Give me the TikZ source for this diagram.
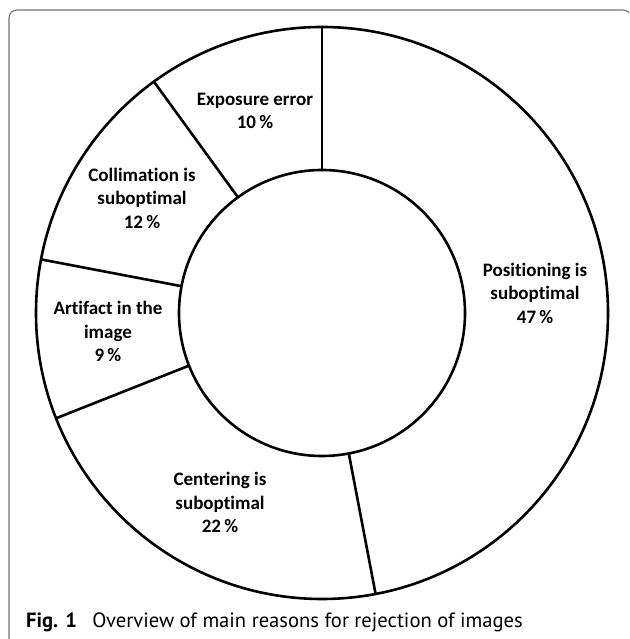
\documentclass[tikz,border=0pt]{standalone}
\usepackage{fontspec}
\setmainfont[Ligatures=NoCommon]{Carlito}
\newfontfamily\capfont{PT Sans}
\usetikzlibrary{positioning}

\begin{document}
\begin{tikzpicture}[x=1pt,y=1pt,
   ring/.style={draw=black,line width=2.6pt},
   slice/.style={align=center,font=\bfseries\fontsize{19}{23.5}\selectfont},
   frame/.style={draw=black!55,line width=1.1pt,rounded corners=8pt}]
   \useasboundingbox (0,0) rectangle (629,639);
   \clip (0,0) rectangle (629,639);
   \draw[frame] (9,-30) rectangle (631,629);
   \coordinate (C) at (322,326);
   % donut
   \draw[ring] (C) circle[radius=286] (C) circle[radius=143];
   \foreach \a in {90,126,169.2,201.6,280.8}
      \draw[ring] (C) ++(\a:143) -- ++(\a:143);
   % slice texts
   \node[slice] (expo) at (255,528) {Exposure error\\10\,\%};
   \node[slice] (coll) at (142,441) {Collimation is\\suboptimal\\12\,\%};
   \node[slice] (arti) at (108,307.5) {Artifact in the\\image\\9\,\%};
   \node[slice] (cent) at (220,136.5) {Centering is\\suboptimal\\22\,\%};
   \node[slice] (posi) at (535,346) {Positioning is\\suboptimal\\47\,\%};
   % caption
   \node[anchor=base west,inner sep=0pt,font=\capfont\fontsize{20.6}{24}\selectfont] (cap) at (26,12)
      {\textbf{Fig. 1}\hspace{0.75em}Overview of main reasons for rejection of images};
\end{tikzpicture}
\end{document}
